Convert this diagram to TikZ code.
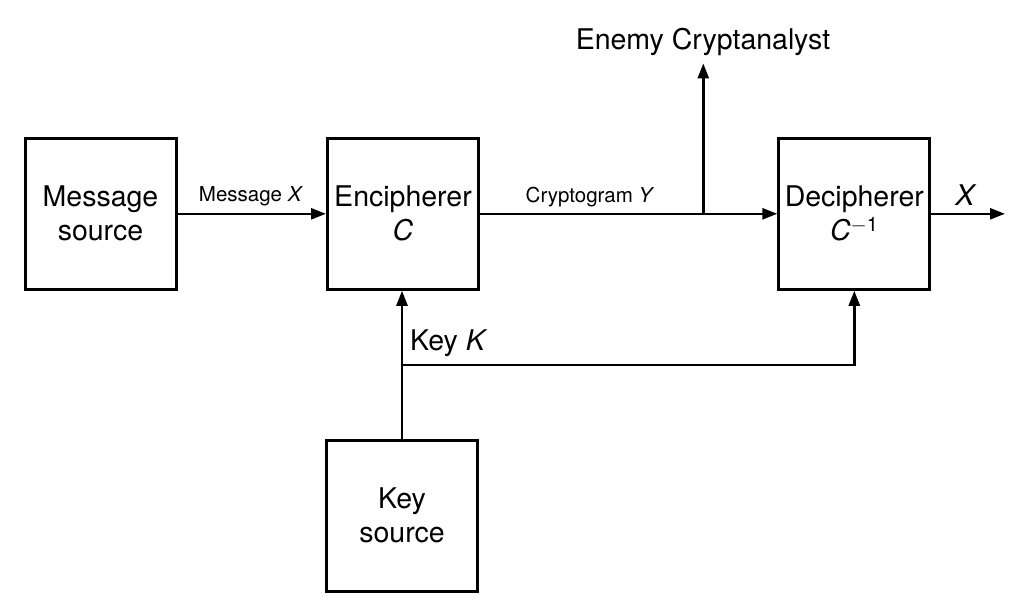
\documentclass[tikz,border=0pt]{standalone}
\usepackage{fontspec}
\setmainfont{TeX Gyre Heros}
\usetikzlibrary{arrows.meta}
\begin{document}
\begin{tikzpicture}[x=1pt,y=-1pt,
  box/.style={draw, line width=3pt, minimum size=151pt, inner sep=0pt, align=center,
    font=\fontsize{28.5}{34}\selectfont},
  lbl/.style={inner sep=0pt, font=\fontsize{28.5}{33}\selectfont},
  slbl/.style={inner sep=0pt, font=\fontsize{20.5}{24}\selectfont},
  arr/.style={line width=2.5pt, -{Triangle[length=15pt,width=11pt]}},
  ln/.style={line width=2.5pt}]
\useasboundingbox (0,0) rectangle (1010,610);
\node[box] (ms) at (100.5,213.8) {Message\\source};
\node[box] (enc) at (403,213.8) {Encipherer\\\textit{C}};
\node[box] (dec) at (854.3,213.8) {Decipherer\\\textit{C}\textsuperscript{$-$1}};
\node[box] (ks) at (402,515.5) {Key\\source};
\node[lbl, anchor=base, inner ysep=7pt] (enemy) at (703,50) {Enemy Cryptanalyst};
\node[slbl, anchor=base] (mx) at (251,201) {Message \textit{X}};
\node[slbl, anchor=base] (cy) at (590,202) {Cryptogram \textit{Y}};
\node[lbl, anchor=base] (ox) at (966,205) {\textit{X}};
\node[lbl, anchor=base west] (kk) at (410,350) {Key \textit{K}};
\coordinate (j1) at (703.3,213.8);
\coordinate (j2) at (402,365);
\coordinate (out) at (1005,213.8);
\draw[arr] (ms.east) -- (enc.west);
\draw[arr] (enc.east) -- (dec.west);
\draw[arr] (j1) -- (j1 |- enemy.south);
\draw[arr] (dec.east) -- (out);
\draw[arr] (ks.north) -- (ks.north |- enc.south);
\draw[arr] (j2) -| (dec.south);
\end{tikzpicture}
\end{document}
